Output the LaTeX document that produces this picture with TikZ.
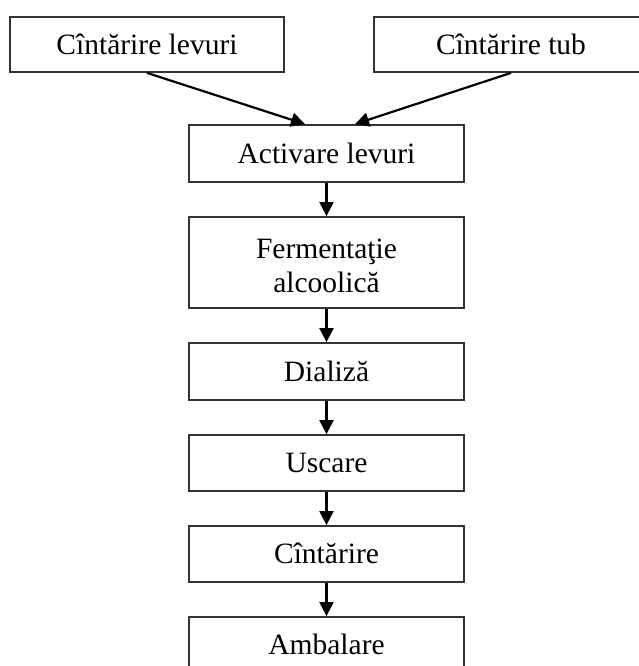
\documentclass[tikz,border=0pt]{standalone}
\usepackage{fontspec}
\setmainfont{Liberation Serif}
\usetikzlibrary{arrows.meta}
\begin{document}
\begin{tikzpicture}[x=1pt,y=-1pt,
  box/.style={draw=black!80, line width=1.8pt, rectangle, inner sep=0pt,
    font=\fontsize{29.5}{34}\selectfont},
  onebox/.style={box, text height=21.5pt, text depth=2pt},
  conn/.style={line width=2.2pt, black, -{Triangle[length=14pt,width=14pt]}}]
\useasboundingbox (0,0) rectangle (638,666);
\node[onebox, minimum width=274pt, minimum height=55pt] (lev) at (147,44.5) {Cîntărire levuri};
\node[onebox, minimum width=274pt, minimum height=55pt] (tub) at (511,44.5) {Cîntărire tub};
\node[onebox, minimum width=275pt, minimum height=57pt] (act) at (326.5,153.5) {Activare levuri};
\node[box, align=center, minimum width=275pt, minimum height=91pt] (fer) at (326.5,262.5) {\rule{0pt}{27pt}Fermentaţie\\alcoolică};
\node[onebox, minimum width=275pt, minimum height=57pt] (dia) at (326.5,371.5) {Dializă};
\node[onebox, minimum width=275pt, minimum height=56pt] (usc) at (326.5,463) {Uscare};
\node[onebox, minimum width=275pt, minimum height=56pt] (cin) at (326.5,554) {Cîntărire};
\node[onebox, minimum width=275pt, minimum height=56pt] (amb) at (326.5,645) {Ambalare};
\draw[conn] (lev.south) -- ([xshift=-21.5pt]act.north);
\draw[conn] (tub.south) -- ([xshift=28.5pt]act.north);
\draw[conn] (act) -- (fer);
\draw[conn] (fer) -- (dia);
\draw[conn] (dia) -- (usc);
\draw[conn] (usc) -- (cin);
\draw[conn] (cin) -- (amb);
\end{tikzpicture}
\end{document}
